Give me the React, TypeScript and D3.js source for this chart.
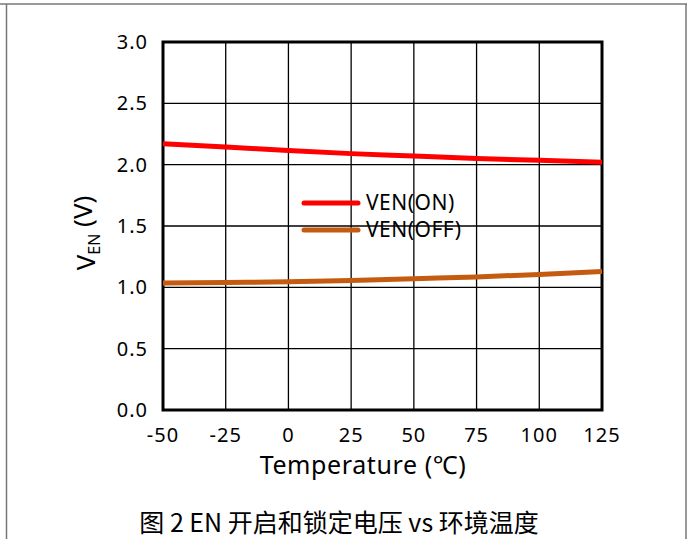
import React from "react";
import * as d3 from "d3";

const temps = [-50, -25, 0, 25, 50, 75, 100, 125];
const venOn = [2.17, 2.145, 2.115, 2.09, 2.07, 2.05, 2.035, 2.02];
const venOff = [1.035, 1.04, 1.045, 1.055, 1.07, 1.085, 1.105, 1.13];
const xTicks = [-50, -25, 0, 25, 50, 75, 100, 125];
const yTicks = [0, 0.5, 1, 1.5, 2, 2.5, 3];
const seriesNames = ["VEN(ON)", "VEN(OFF)"];
const colors = ["#ff0000", "#c55a11"];

const FONT = "'Noto Sans', 'Open Sans', sans-serif";

export default function App() {
  const W = 695, H = 539;
  const left = 163, right = 602, top = 42, bottom = 410;
  const x = d3.scaleLinear().domain([-50, 125]).range([left, right]);
  const y = d3.scaleLinear().domain([0, 3]).range([bottom, top]);
  const line = d3.line<number>().x((_, i) => x(temps[i])).y((d) => y(d)).curve(d3.curveMonotoneX);
  const series = [venOn, venOff];
  return (
    <svg width={W} height={H} style={{ position: "absolute", left: 0, top: 0 }}>
      <rect width={W} height={H} fill="#fff" />
      <line x1={0} x2={687} y1={4} y2={4} stroke="#777" strokeWidth={1.5} />
      <line x1={6.5} x2={6.5} y1={4} y2={H} stroke="#777" strokeWidth={1.5} />
      <line x1={686} x2={686} y1={4} y2={H} stroke="#777" strokeWidth={1.5} />
      {xTicks.map((t) => (
        <line key={"gx" + t} x1={x(t)} x2={x(t)} y1={top} y2={bottom} stroke="#000" strokeWidth={1.3} />
      ))}
      {yTicks.map((t) => (
        <line key={"gy" + t} x1={left} x2={right} y1={y(t)} y2={y(t)} stroke="#000" strokeWidth={1.3} />
      ))}
      <rect x={left} y={top} width={right - left} height={bottom - top} fill="none" stroke="#000" strokeWidth={3} />
      {series.map((s, i) => (
        <path key={"s" + i} d={line(s) || ""} fill="none" stroke={colors[i]} strokeWidth={5} />
      ))}
      {yTicks.map((t) => (
        <text key={"ty" + t} x={148} y={y(t)} dy="0.35em" textAnchor="end" fontFamily={FONT} fontSize={20} letterSpacing={1} fill="#000">
          {t.toFixed(1)}
        </text>
      ))}
      {xTicks.map((t) => (
        <text key={"tx" + t} x={x(t)} y={435} dy="0.35em" textAnchor="middle" fontFamily={FONT} fontSize={20} letterSpacing={1} fill="#000">
          {t}
        </text>
      ))}
      <text x={363} y={465} dy="0.35em" textAnchor="middle" fontFamily={FONT} fontSize={25} letterSpacing={0.6} fill="#000">
        Temperature (℃)
      </text>
      <text transform="translate(86,233) rotate(-90)" textAnchor="middle" dy="0.35em" fontFamily={FONT} fontSize={26} fill="#000">
        V<tspan fontSize={16} dy="0.3em">EN</tspan><tspan dy="-0.3em"> (V)</tspan>
      </text>
      {seriesNames.map((n, i) => (
        <g key={"lg" + i}>
          <line x1={304} x2={358} y1={203 + i * 27} y2={203 + i * 27} stroke={colors[i]} strokeWidth={5} strokeLinecap="round" />
          <text x={366} y={203 + i * 27} dy="0.35em" fontFamily={FONT} fontSize={21} letterSpacing={0.5} fill="#000">{n}</text>
        </g>
      ))}
      <text x={339} y={523} dy="0.35em" textAnchor="middle" fontFamily="'Noto Sans CJK SC', sans-serif" fontSize={25} fill="#000">
        图 2 EN 开启和锁定电压 vs 环境温度
      </text>
    </svg>
  );
}
